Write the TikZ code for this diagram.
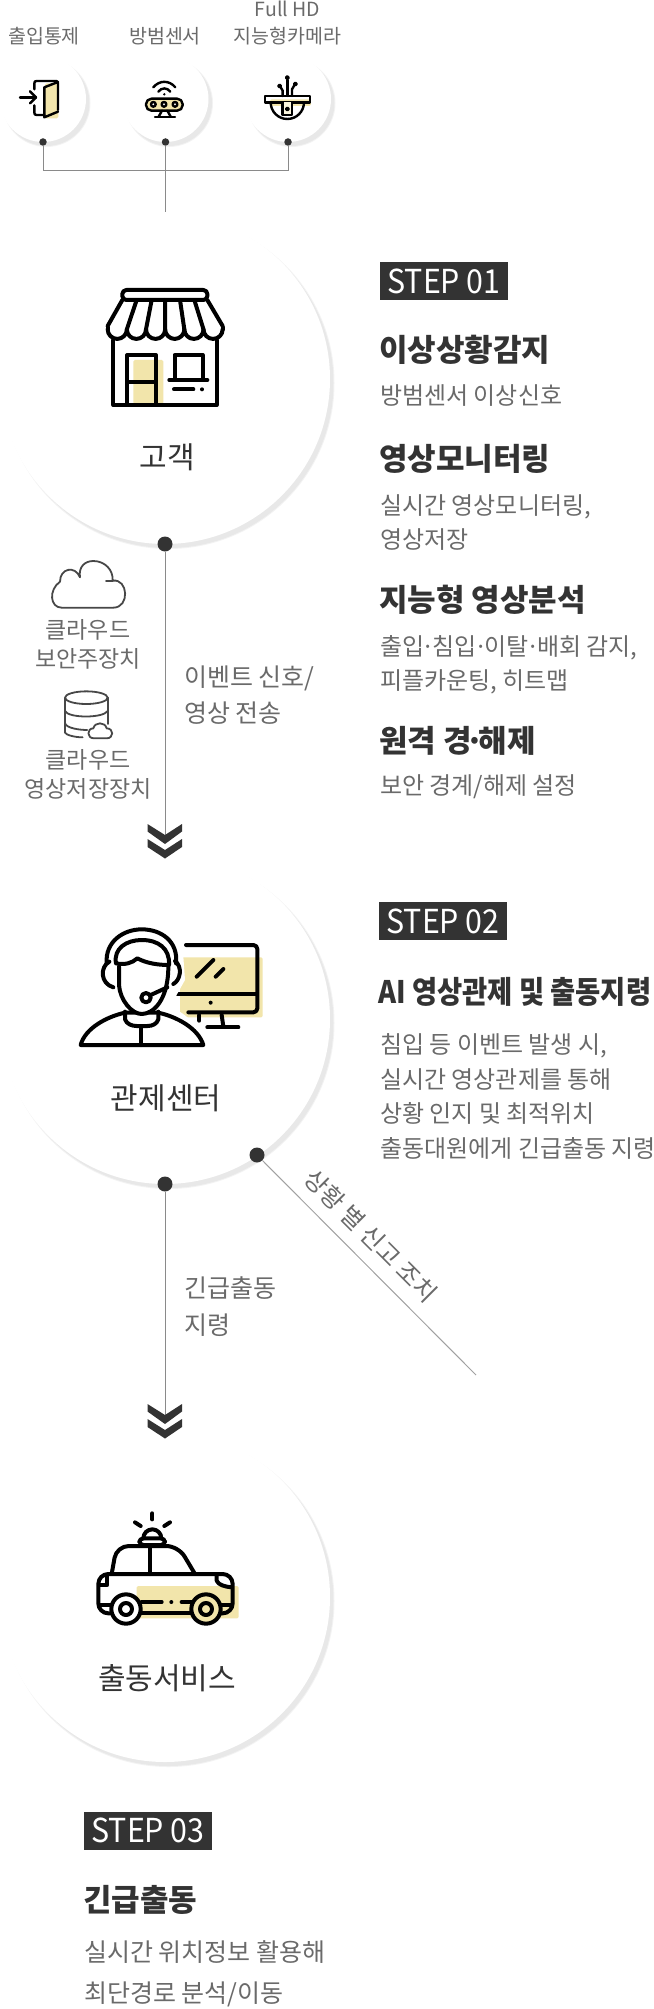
\documentclass[tikz,border=0pt]{standalone}
\usepackage{fontspec}
\usepackage{graphicx}
\setmainfont{Noto Sans CJK KR}
\usetikzlibrary{calc}

\definecolor{inkdark}{HTML}{333333}
\definecolor{inkgray}{HTML}{6A6A6A}
\definecolor{wireline}{HTML}{8A8A8A}
\definecolor{shadeline}{HTML}{E8E8E8}
\definecolor{shadesoft}{HTML}{F3F3F3}
\definecolor{paleyellow}{HTML}{F2E5AB}

\newcommand{\tightdot}{\kern-.11em·\kern-.11em}
\newcommand{\squeezed}[2]{\scalebox{#1}[1]{#2}}

\tikzset{
	bigdot/.style={circle, fill=inkdark, inner sep=0pt, minimum size=15pt},
	smalldot/.style={circle, fill=inkdark, inner sep=0pt, minimum size=7.5pt},
	wire/.style={draw=wireline, line width=1pt},
	chevron/.style={fill=inkdark},
	smalllabel/.style={font=\fontsize{19.5}{27}\selectfont, text=inkgray, align=center},
	sidelabel/.style={font=\fontsize{23}{29}\selectfont, text=inkgray, align=center},
	flowlabel/.style={font=\fontsize{25}{36.5}\selectfont, text=inkgray, align=left, anchor=west, inner sep=0pt},
	placelabel/.style={font=\fontsize{30}{36}\selectfont, text=inkdark},
	stepbadge/.style={fill=inkdark, text=white, inner sep=0pt, minimum width=128pt, minimum height=38pt, font=\fontsize{33}{38}\selectfont},
	headline/.style={font=\fontsize{31}{36}\selectfont\bfseries, text=inkdark, anchor=west, inner sep=0pt},
	bodyline/.style={font=\fontsize{24}{34.5}\selectfont, text=inkgray, anchor=west, align=left, inner sep=0pt},
	iconline/.style={draw=black, line width=4pt, line cap=round, line join=round},
	tinyline/.style={draw=black, line width=2.4pt, line cap=round, line join=round},
	thinline/.style={draw=inkdark!90, line width=1.8pt, line cap=round, line join=round},
	yellowbox/.style={fill=paleyellow, rounded corners=1.5pt},
}

\begin{document}
\begin{tikzpicture}[x=1pt, y=-1pt]

	\useasboundingbox (0,0) rectangle (653,2009);

	\foreach \cx/\cy/\rad in {43/99/43, 165.5/99/43, 288/99/43, 165/379/165, 165/1019/165, 165/1597/165}{
		\fill[shadesoft] (\cx+3.5,\cy+4) circle (\rad+1);
		\fill[shadeline] (\cx+3.5,\cy+4) circle (\rad);
		\fill[white] (\cx,\cy) circle (\rad);
	}

	% top row
	\node[smalllabel] (doorLabel) at (44,36) {출입통제};
	\node[smalllabel] (sensorLabel) at (165,36) {방범센서};
	\node[smalllabel] (cameraLabel) at (287.5,23) {Full HD\\지능형카메라};

	\node[smalldot] (doorDot) at (43,142) {};
	\node[smalldot] (sensorDot) at (165.5,142) {};
	\node[smalldot] (cameraDot) at (288,142) {};
	\coordinate (rowJoin) at (165.5,171);
	\coordinate (rowEnd) at (165.5,212);

	\draw[wire] (doorDot) |- (rowJoin);
	\draw[wire] (cameraDot) |- (rowJoin);
	\draw[wire] (sensorDot) -- (rowEnd);

	\begin{scope}[scale=1/3]
		\fill[yellowbox] (135,250) rectangle (175,355);
		\draw[tinyline] (60,292) -- (108,292);
		\draw[tinyline] (90,274) -- (108,292) -- (90,310);
		\draw[tinyline] (103,268) -- (103,250) .. controls (103,245) and (105,243) .. (110,243) -- (168,243) .. controls (172,243) and (174,245) .. (174,250) -- (174,330);
		\draw[tinyline] (103,316) -- (103,338) .. controls (103,343) and (105,345) .. (110,345) -- (133,345);
		\draw[tinyline] (133,262) -- (133,352) -- (174,335);
		\draw[tinyline] (133,262) -- (174,246);

		\draw[tinyline] (460,262) .. controls (478,240) and (508,240) .. (526,262);
		\draw[tinyline] (475,275) .. controls (485,262) and (501,262) .. (511,275);
		\fill (493,283) circle (4);
		\draw[tinyline, fill=paleyellow, rounded corners=5.5pt] (438,296) rectangle (548,332);
		\foreach \dotx in {460,492,525}{
			\draw[tinyline, fill=white] (\dotx,313) circle (7);
		}
		\draw[tinyline] (486,332) -- (476,350);
		\draw[tinyline] (502,332) -- (512,350);
		\draw[tinyline] (465,351) -- (525,351);

		\fill[yellowbox] (810,298) rectangle (933,318);
		\draw[tinyline] (795,288) rectangle (930,307);
		\draw[tinyline] (812,307) arc[start angle=180, end angle=0, radius=50];
		\draw[tinyline, fill=paleyellow!40] (848,307) -- (848,345) -- (876,345) -- (876,307);
		\draw[tinyline] (862,327) circle (4);
		\draw[tinyline] (862,240) -- (862,288);
		\draw[tinyline] (862,233) circle (4);
		\draw[tinyline] (842,262) -- (848,272) -- (848,288);
		\draw[tinyline] (839,258) circle (4);
		\draw[tinyline] (883,256) -- (876,268) -- (876,288);
		\draw[tinyline] (886,252) circle (4);
	\end{scope}

	% customer
	\begin{scope}[shift={(0,240)}, scale=1/3]
		\fill[yellowbox] (400,360) rectangle (490,492);
		\draw[iconline] (340,300) -- (340,495) -- (650,495) -- (650,300);
		\draw[iconline, rounded corners=4pt] (367,180) -- (367,150) -- (622,150) -- (622,180) -- cycle;
		\draw[iconline] (367,180) -- (323,258);
		\draw[iconline] (622,180) -- (668,258);
		\draw[iconline] (323,268) \foreach \step in {1,...,6}{arc[start angle=180, end angle=0, radius=28.75]};
		\draw[iconline] (323,262) -- (323,268);
		\draw[iconline] (668,262) -- (668,268);
		\foreach \topx/\lowx in {410/380.5, 455/438, 495/495.5, 540/553, 583/610.5}{
			\draw[iconline] (\topx,180) -- (\lowx,268);
		}
		\draw[iconline] (382,495) -- (382,345) -- (468,345) -- (468,495);
		\draw[iconline] (382,425) -- (468,425);
		\draw[iconline] (524,420) -- (524,345) -- (608,345) -- (608,420);
		\draw[iconline] (508,420) -- (622,420);
		\draw[iconline] (522,448) -- (580,448);
		\fill (606,448) circle (6);
	\end{scope}
	\node[placelabel] (customerLabel) at (167,457) {고객};

	\node[bigdot] (customerDot) at (165,544) {};
	\coordinate (customerEnd) at (165,843);
	\draw[wire] (customerDot) -- (customerEnd);
	\node[flowlabel] (eventLabel) at (184,695) {이벤트 신호/\\영상 전송};

	\fill[chevron] (147.5,824) -- (165,835) -- (182,824) -- (182,831.5) -- (165,844) -- (147.5,831.5) -- cycle;
	\fill[chevron] (147.5,839) -- (165,850) -- (182,839) -- (182,847) -- (165,858.5) -- (147.5,847) -- cycle;

	\begin{scope}[shift={(0,540)}, scale=1/3]
		\draw[thinline] (185,203) .. controls (150,203) and (145,150) .. (180,125) .. controls (180,85) and (225,75) .. (240,112) .. controls (235,80) and (255,63) .. (280,63) .. controls (315,63) and (340,90) .. (338,122) .. controls (385,115) and (390,203) .. (340,203) -- cycle;
		\draw[thinline] (318,122) -- (338,122);

		\draw[thinline] (259,473) ellipse (64 and 19);
		\draw[thinline] (195,473) -- (195,578) .. controls (198,585) and (225,592) .. (248,592);
		\draw[thinline] (323,473) -- (323,552);
		\draw[thinline] (195,513) .. controls (205,535) and (310,535) .. (323,513);
		\draw[thinline] (195,550) .. controls (200,565) and (240,570) .. (262,570);
		\draw[thinline] (282,595) .. controls (260,595) and (260,565) .. (280,565) .. controls (285,545) and (315,545) .. (320,565) .. controls (342,565) and (342,595) .. (320,595) -- cycle;
	\end{scope}
	\node[sidelabel] (cloudLabel) at (88,644) {클라우드\\보안주장치};
	\node[sidelabel] (storeLabel) at (88,774.5) {클라우드\\영상저장장치};

	% control room
	\begin{scope}[shift={(60,900)}, scale=1/3]
		\fill[yellowbox] (360,172) rectangle (608,352);
		\draw[iconline, rounded corners=4pt] (378,135) -- (592,135) -- (592,337) -- (385,337);
		\draw[iconline] (352,283) -- (590,283);
		\draw[iconline] (410,230) -- (460,180);
		\draw[iconline] (467,230) -- (490,207);
		\fill (452,308) circle (6);
		\draw[iconline] (418,345) -- (418,362);
		\draw[iconline] (485,345) -- (490,380);
		\draw[iconline] (442,382) -- (535,382);

		\fill[white] (62,445) -- (50,430) .. controls (90,360) and (160,340) .. (165,320) -- (115,260) -- (120,170) .. controls (150,60) and (340,60) .. (370,170) -- (375,240) -- (330,320) .. controls (380,340) and (430,390) .. (445,445) -- cycle;

		\draw[iconline, fill=white] (62,435) .. controls (75,385) and (140,350) .. (195,338) -- (295,338) .. controls (350,350) and (415,385) .. (430,435) -- cycle;
		\draw[iconline] (195,335) -- (195,358) .. controls (200,372) and (215,378) .. (230,378) -- (262,378) .. controls (278,378) and (290,372) .. (295,358) -- (295,335);
		\draw[iconline] (243,378) -- (243,435);
		\draw[iconline, fill=white] (177,200) -- (177,255) .. controls (180,300) and (215,342) .. (245,342) .. controls (280,342) and (325,300) .. (325,200);
		\draw[iconline] (168,190) .. controls (160,145) and (200,120) .. (245,120) .. controls (295,120) and (330,145) .. (327,195) .. controls (295,195) and (260,190) .. (232,175) .. controls (215,190) and (195,195) .. (168,190);
		\draw[iconline] (140,190) .. controls (135,125) and (190,88) .. (245,88) .. controls (305,88) and (355,125) .. (348,190);
		\draw[iconline] (148,185) .. controls (120,200) and (120,250) .. (160,262);
		\draw[iconline] (345,183) .. controls (368,200) and (362,240) .. (340,252);
		\draw[iconline] (272,285) -- (322,262);
		\draw[iconline, fill=white] (258,293) circle (14);
	\end{scope}
	\node[placelabel] (controlLabel) at (166,1098) {관제센터};

	\node[bigdot] (controlDot) at (165,1184) {};
	\coordinate (controlEnd) at (165,1423);
	\draw[wire] (controlDot) -- (controlEnd);
	\node[flowlabel] (dispatchLabel) at (184,1306.5) {긴급출동\\지령};

	\fill[chevron] (147.5,1404) -- (165,1415) -- (182,1404) -- (182,1411.5) -- (165,1424) -- (147.5,1411.5) -- cycle;
	\fill[chevron] (147.5,1419) -- (165,1430) -- (182,1419) -- (182,1427) -- (165,1438.5) -- (147.5,1427) -- cycle;

	\node[bigdot] (reportDot) at (257,1155) {};
	\coordinate (reportEnd) at (476,1375);
	\draw[draw=wireline!80, line width=1pt] (reportDot) -- (reportEnd);
	\node[font=\fontsize{24.5}{30}\selectfont, text=inkgray, rotate=-45, inner sep=0pt] (reportLabel) at (371,1236) {상황 별 신고 조치};

	% dispatch service
	\begin{scope}[shift={(0,1450)}, scale=1/3]
		\fill[yellowbox] (410,408) rectangle (716,505);
		\draw[iconline, rounded corners=10pt] (330,490) -- (295,490) -- (295,372) -- (698,372) -- (698,490) -- (660,490);
		\draw[iconline] (425,490) -- (575,490);
		\draw[iconline] (425,456) -- (485,456);
		\fill (514,456) circle (6);
		\draw[iconline] (545,456) -- (590,456);
		\draw[iconline] (297,405) -- (322,405) -- (322,375);
		\draw[iconline] (650,375) -- (650,392) .. controls (655,405) and (675,410) .. (695,412);
		\draw[iconline] (298,465) -- (332,465);
		\draw[iconline] (665,465) -- (695,465);
		\draw[iconline, rounded corners=12pt] (335,372) -- (350,288) -- (535,288) -- (585,372);
		\draw[iconline] (450,288) -- (450,372);
		\foreach \wheelx/\wheelfill in {378/white, 618/paleyellow}{
			\draw[iconline, fill=\wheelfill] (\wheelx,477) circle (44);
			\draw[iconline, fill=\wheelfill] (\wheelx,477) circle (18);
		}
		\draw[iconline, rounded corners=4pt] (418,285) -- (418,265) -- (495,265) -- (495,285) -- cycle;
		\draw[iconline] (430,265) arc[start angle=180, end angle=360, radius=27];
		\draw[iconline] (457,190) -- (457,208);
		\draw[iconline] (405,217) -- (422,228);
		\draw[iconline] (510,217) -- (493,228);
	\end{scope}
	\node[placelabel] (serviceLabel) at (167,1678) {출동서비스};

	% step 01
	\node[stepbadge] (stepOne) at (444,281) {\squeezed{.92}{STEP 01}};
	\node[headline] (watchHead) at (379,350) {이상상황감지};
	\node[bodyline] (watchBody) at (380,396) {방범센서 이상신호};
	\node[headline] (monitorHead) at (379,458.5) {영상모니터링};
	\node[bodyline] (monitorBody) at (380,522.5) {실시간 영상모니터링,\\영상저장};
	\node[headline] (analysisHead) at (379,599.5) {지능형 영상분석};
	\node[bodyline] (analysisBody) at (380,665) {출입\tightdot 침입\tightdot 이탈\tightdot 배회 감지,\\피플카운팅, 히트맵};
	\node[headline] (remoteHead) at (379,740.5) {원격 경\kern-.08em\tightdot\kern-.08em 해제};
	\node[bodyline] (remoteBody) at (380,787) {보안 경계/해제 설정};

	% step 02
	\node[stepbadge] (stepTwo) at (443,921) {\squeezed{.92}{STEP 02}};
	\node[headline] (aiHead) at (378,992) {\squeezed{.883}{AI 영상관제 및 출동지령}};
	\node[bodyline] (aiBody) at (380,1096.5) {침입 등 이벤트 발생 시,\\실시간 영상관제를 통해\\상황 인지 및 최적위치\\출동대원에게 긴급출동 지령};

	% step 03
	\node[stepbadge] (stepThree) at (148,1830.5) {\squeezed{.92}{STEP 03}};
	\node[headline] (rushHead) at (83,1900) {긴급출동};
	\node[bodyline, font=\fontsize{25}{41}\selectfont] (rushBody) at (84,1973.5) {실시간 위치정보 활용해\\최단경로 분석/이동};

\end{tikzpicture}
\end{document}
